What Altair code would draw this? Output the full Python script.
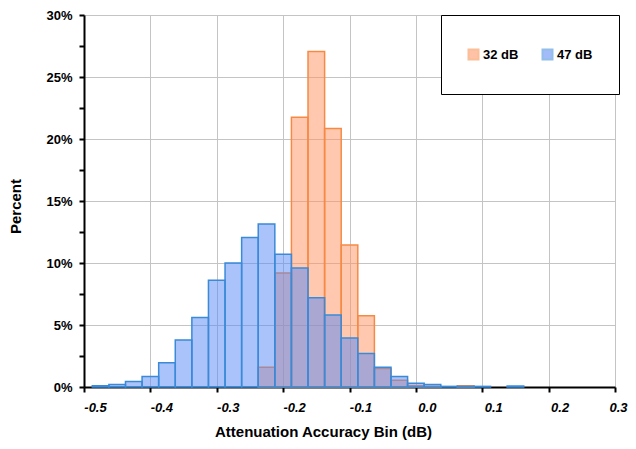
import altair as alt
import pandas as pd

series_names = ["32 dB", "47 dB"]

# bin centres (dB) and percentages
centers_32 = [-0.225, -0.2, -0.175, -0.15, -0.125, -0.1, -0.075, -0.05, -0.025, 0.0, 0.025, 0.075]
pct_32 = [1.6, 9.2, 21.75, 27.05, 20.85, 11.45, 5.75, 1.5, 0.55, 0.1, 0.05, 0.1]

centers_47 = [-0.475, -0.45, -0.425, -0.4, -0.375, -0.35, -0.325, -0.3, -0.275, -0.25,
              -0.225, -0.2, -0.175, -0.15, -0.125, -0.1, -0.075, -0.05, -0.025, 0.0,
              0.025, 0.05, 0.075, 0.1, 0.15]
pct_47 = [0.1, 0.2, 0.45, 0.85, 1.95, 3.8, 5.6, 8.6, 10.0, 12.05,
          13.15, 10.7, 9.6, 7.2, 5.8, 3.95, 2.7, 1.6, 0.85, 0.3,
          0.2, 0.05, 0.05, 0.05, 0.08]

bin_half = 0.0125

x_ticks = [-0.5, -0.4, -0.3, -0.2, -0.1, 0.0, 0.1, 0.2, 0.3]
y_ticks = [0.0, 0.025, 0.05, 0.075, 0.1, 0.125, 0.15, 0.175, 0.2, 0.225, 0.25, 0.275, 0.3]

df = pd.concat([
    pd.DataFrame({"series": series_names[0], "center": centers_32, "pct": [v / 100 for v in pct_32]}),
    pd.DataFrame({"series": series_names[1], "center": centers_47, "pct": [v / 100 for v in pct_47]}),
], ignore_index=True)

FONT = "Liberation Sans"

bars = alt.Chart(df).transform_calculate(
    x0=f"datum.center - {bin_half}",
    x1=f"datum.center + {bin_half}",
).mark_bar(strokeWidth=1.5, fillOpacity=0.5).encode(
    x=alt.X("x0:Q",
            scale=alt.Scale(domain=[-0.5, 0.3], nice=False, zero=False),
            axis=alt.Axis(values=x_ticks,
                          labelExpr="replace(format(datum.value, '.1f'), '\u2212', '-')",
                          labelFlush=False, labelOverlap=False,
                          labelFont=FONT, labelFontSize=13, labelFontWeight="bold",
                          labelFontStyle="italic", labelColor="black",
                          labelOffset={"condition": {"test": "datum.value > 0.25", "value": 3}, "value": 11},
                          labelPadding=9,
                          tickSize=5, tickColor="black", tickWidth=2,
                          domainColor="black", domainWidth=2,
                          gridColor="#C4C4C4", gridWidth=1,
                          title="Attenuation Accuracy Bin (dB)",
                          titleFont=FONT, titleFontSize=15, titleFontWeight="bold",
                          titleColor="black", titleX=239, titleY=44,
                          titleAlign="center", titleBaseline="middle")),
    x2="x1:Q",
    y=alt.Y("pct:Q", stack=None,
            scale=alt.Scale(domain=[0, 0.3], nice=False),
            axis=alt.Axis(values=y_ticks, format=".0%",
                          labelExpr="round(datum.value*1000) % 50 == 0 ? datum.label : ''",
                          gridOpacity={"condition": {"test": "round(datum.value*1000) % 50 == 0", "value": 1}, "value": 0},
                          labelFont=FONT, labelFontSize=13, labelFontWeight="bold",
                          labelColor="black", labelPadding=7,
                          tickSize=5, tickColor="black", tickWidth=2,
                          domainColor="black", domainWidth=2,
                          gridColor="#C4C4C4", gridWidth=1,
                          title="Percent", titleFont=FONT, titleFontSize=15,
                          titleFontWeight="bold", titleColor="black",
                          titleX=-69, titleY=191, titleAngle=-90,
                          titleAlign="center", titleBaseline="middle")),
    y2=alt.datum(0),
    fill=alt.Fill("series:N",
                  scale=alt.Scale(domain=series_names, range=["#FF915F", "#5587F5"]),
                  legend=alt.Legend(title=None, orient="none", legendX=357, legendY=0,
                                    direction="horizontal", columns=2,
                                    strokeColor="black", fillColor="white",
                                    padding=26, clipHeight=27, columnPadding=22,
                                    symbolType="square", symbolSize=100,
                                    symbolStrokeWidth=2, symbolOffset=0,
                                    symbolOpacity=0.55,
                                    labelOffset=3,
                                    labelFont=FONT, labelFontSize=13,
                                    labelFontWeight="bold", labelColor="black")),
    stroke=alt.Stroke("series:N",
                      scale=alt.Scale(domain=series_names, range=["#F68A45", "#3A8AD8"]),
                      legend=alt.Legend(title=None)),
)

chart = bars.properties(
    width=531, height=372,
    autosize=alt.AutoSizeParams(type="none"),
    padding={"left": 76, "top": 7, "right": 13, "bottom": 54},
    background="white",
).configure_view(stroke=None)

chart.save("out.html", embed_options={"renderer": "svg", "actions": False})
